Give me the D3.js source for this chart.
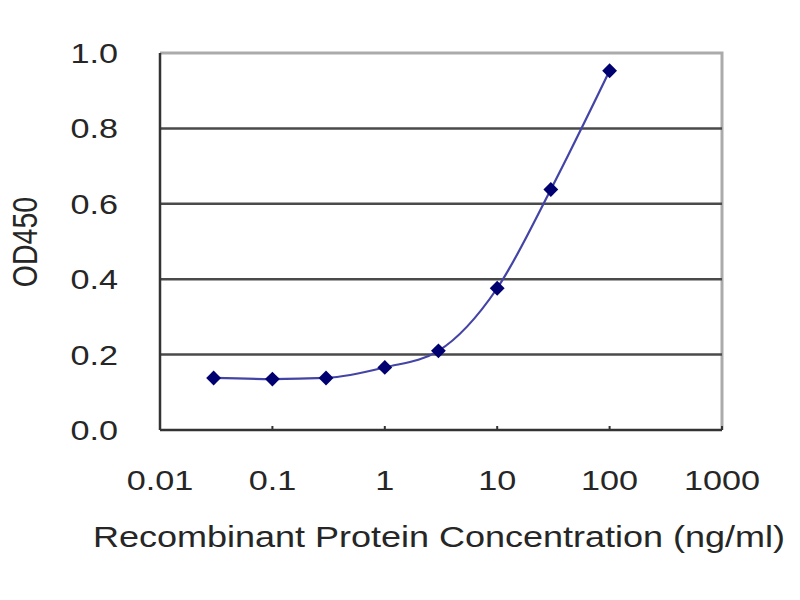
<!DOCTYPE html>
<html>
<head>
<meta charset="utf-8">
<script src="https://cdn.jsdelivr.net/npm/d3@7"></script>
<style>
    body { margin: 0; background: #fff; }
    .lbl { font-family: "Liberation Sans", Arial, sans-serif; fill: #262626; }
</style>
</head>
<body>
<div id="chart"></div>
<script>
// concentrations (ng/ml) and measured OD450
let conc = [0.03, 0.1, 0.3, 1, 3, 10, 30, 100];
let od = [0.138, 0.135, 0.138, 0.166, 0.21, 0.376, 0.638, 0.953];
let xTicks = [0.01, 0.1, 1, 10, 100, 1000];
let xTickLabels = ["0.01", "0.1", "1", "10", "100", "1000"];
let yTicks = [0, 0.2, 0.4, 0.6, 0.8, 1.0];

let margin = {top: 53, right: 78, bottom: 170, left: 160};
let width = 800 - margin.left - margin.right;
let height = 600 - margin.top - margin.bottom;
let stretch = 1.2; // the picture is a bit wider than tall

let svg = d3.select("#chart").append("svg")
    .attr("width", 800)
    .attr("height", 600);

let g = svg.append("g")
    .attr("transform", `translate(${margin.left}, ${margin.top})`);

let x = d3.scaleLog().domain([0.01, 1000]).range([0, width]);
let y = d3.scaleLinear().domain([0, 1]).range([height, 0]);

// plot border (grey top + right)
g.append("path")
    .attr("d", `M0,0 H${width} V${height}`)
    .attr("fill", "none")
    .attr("stroke", "#ababab")
    .attr("stroke-width", 3);

// gridlines
g.selectAll(".grid")
    .data(yTicks.filter(d => d > 0 && d < 1))
    .enter().append("line")
    .attr("class", "grid")
    .attr("x1", 0)
    .attr("x2", width)
    .attr("y1", d => y(d))
    .attr("y2", d => y(d))
    .attr("stroke", "#4a4a4a")
    .attr("stroke-width", 2.5);

// axes lines
g.append("line")
    .attr("x1", 0).attr("x2", 0)
    .attr("y1", 0).attr("y2", height)
    .attr("stroke", "#333").attr("stroke-width", 2.5);
g.append("line")
    .attr("x1", 0).attr("x2", width)
    .attr("y1", height).attr("y2", height)
    .attr("stroke", "#333").attr("stroke-width", 2.5);

// small x ticks pointing up
g.selectAll(".xtick")
    .data(xTicks.slice(1))
    .enter().append("line")
    .attr("x1", d => x(d)).attr("x2", d => x(d))
    .attr("y1", height).attr("y2", height - 4)
    .attr("stroke", "#333").attr("stroke-width", 2);

// y tick labels
g.selectAll(".ylab")
    .data(yTicks)
    .enter().append("text")
    .attr("class", "lbl")
    .attr("transform", d => `translate(-42, ${y(d) + 10}) scale(${stretch},1)`)
    .attr("text-anchor", "end")
    .style("font-size", "28.5px")
    .text(d => d.toFixed(1));

// x tick labels
g.selectAll(".xlab")
    .data(xTicks)
    .enter().append("text")
    .attr("class", "lbl")
    .attr("transform", d => `translate(${x(d)}, ${height + 60}) scale(${stretch},1)`)
    .attr("text-anchor", "middle")
    .style("font-size", "28.5px")
    .text((d, i) => xTickLabels[i]);

// x title
svg.append("text")
    .attr("class", "lbl")
    .attr("transform", `translate(439, 547) scale(${stretch},1)`)
    .attr("text-anchor", "middle")
    .style("font-size", "30px")
    .text("Recombinant Protein Concentration (ng/ml)");

// y title
svg.append("text")
    .attr("class", "lbl")
    .attr("transform", `translate(37, 242) scale(${stretch},1) rotate(-90)`)
    .attr("text-anchor", "middle")
    .style("font-size", "28.5px")
    .text("OD450");

// curve
let pts = conc.map((c, i) => [x(c), y(od[i])]);
g.append("path")
    .datum(pts)
    .attr("fill", "none")
    .attr("stroke", "#4444a6")
    .attr("stroke-width", 2.2)
    .attr("d", d3.line().curve(d3.curveMonotoneX));

// markers
g.selectAll(".pt")
    .data(pts)
    .enter().append("path")
    .attr("class", "pt")
    .attr("transform", d => `translate(${d[0]}, ${d[1]})`)
    .attr("d", d3.symbol().type(d3.symbolDiamond2).size(140))
    .attr("fill", "#000070");
</script>
</body>
</html>
